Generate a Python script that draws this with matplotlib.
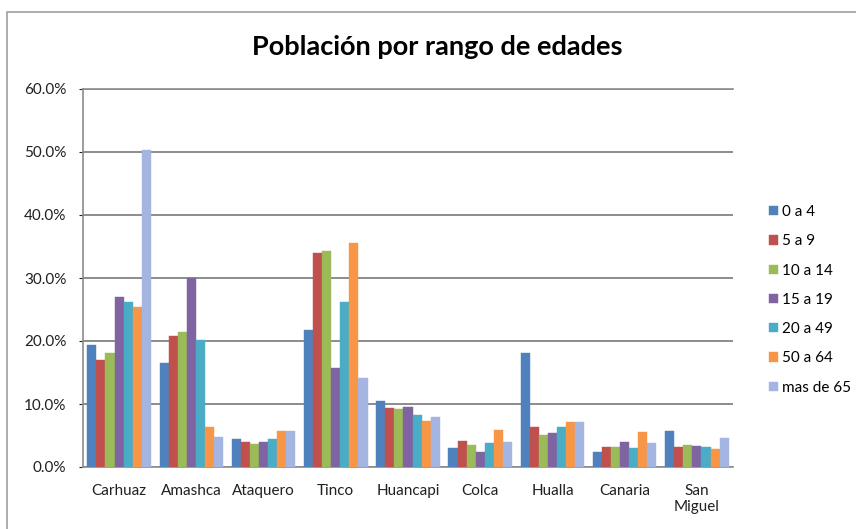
import matplotlib.pyplot as plt
import numpy as np
from matplotlib.patches import Rectangle
from matplotlib.ticker import PercentFormatter

# Districts and age groups (values in %)
districts = ['Carhuaz', 'Amashca', 'Ataquero', 'Tinco', 'Huancapi',
             'Colca', 'Hualla', 'Canaria', 'San\nMiguel']
age_groups = ['0 a 4', '5 a 9', '10 a 14', '15 a 19', '20 a 49', '50 a 64', 'mas de 65']

g_0_4 = [19.4, 16.5, 4.4, 21.7, 10.5, 3.0, 18.1, 2.4, 5.7]
g_5_9 = [17.0, 20.8, 4.0, 34.0, 9.3, 4.1, 6.3, 3.2, 3.2]
g_10_14 = [18.1, 21.4, 3.7, 34.3, 9.2, 3.5, 5.1, 3.1, 3.5]
g_15_19 = [27.0, 30.0, 4.0, 15.7, 9.5, 2.4, 5.4, 4.0, 3.4]
g_20_49 = [26.2, 20.2, 4.5, 26.2, 8.3, 3.8, 6.3, 3.0, 3.2]
g_50_64 = [25.4, 6.3, 5.7, 35.5, 7.3, 5.9, 7.1, 5.6, 2.8]
g_65 = [50.3, 4.7, 5.7, 14.1, 7.9, 3.9, 7.1, 3.8, 4.6]

series = [g_0_4, g_5_9, g_10_14, g_15_19, g_20_49, g_50_64, g_65]
colors = ['#4F81BD', '#C0504D', '#9BBB59', '#8064A2', '#4BACC6', '#F79646', '#A3B5E0']

plt.rcParams['font.family'] = ['Lato', 'DejaVu Sans']

fig = plt.figure(figsize=(8.56, 5.29), dpi=100)
ax = fig.add_axes([83 / 856, 62 / 529, 650 / 856, 378 / 529])

# outer chart frame
fig.patches.append(Rectangle((7 / 856, -0.05), 1.0, (517 / 529) + 0.05,
                             transform=fig.transFigure, fill=False,
                             edgecolor='#A0A0A0', lw=1.2))

x = np.arange(len(districts))
bw = 0.88 / len(series)
for i, (vals, c) in enumerate(zip(series, colors)):
    ax.bar(x - 0.44 + bw * (i + 0.5), vals, width=bw, color=c,
           edgecolor=c, lw=0.3, label=age_groups[i], zorder=3)

ax.set_xlim(-0.5, len(districts) - 0.5)
ax.set_ylim(0, 60)
ax.set_yticks(np.arange(0, 61, 10))
ax.yaxis.set_major_formatter(PercentFormatter(decimals=1))
ax.set_xticks(x)
ax.set_xticklabels(districts, fontsize=11, color='#202020', linespacing=1.2)
ax.tick_params(axis='y', labelsize=11, colors='#202020', length=3, pad=9)
ax.tick_params(axis='x', length=0, pad=12)
for t in ax.get_yticklabels():
    t.set_color('#202020')

ax.grid(axis='y', color='#8C8C8C', lw=1.4, zorder=0)
for side in ['right']:
    ax.spines[side].set_visible(False)
for side in ['left', 'bottom', 'top']:
    ax.spines[side].set_color('#8C8C8C')
    ax.spines[side].set_linewidth(1.2)

fig.text(437 / 856, 1 - 47 / 529, 'Población por rango de edades',
         ha='center', va='center', fontsize=19.5, fontweight='bold')

fig.legend(loc='upper left', bbox_to_anchor=(763 / 856, 1 - 199 / 529),
           frameon=False, fontsize=11, handlelength=0.55, handleheight=0.55,
           handletextpad=0.3, labelspacing=1.0, borderaxespad=0)

fig.savefig('out.png', dpi=100)
